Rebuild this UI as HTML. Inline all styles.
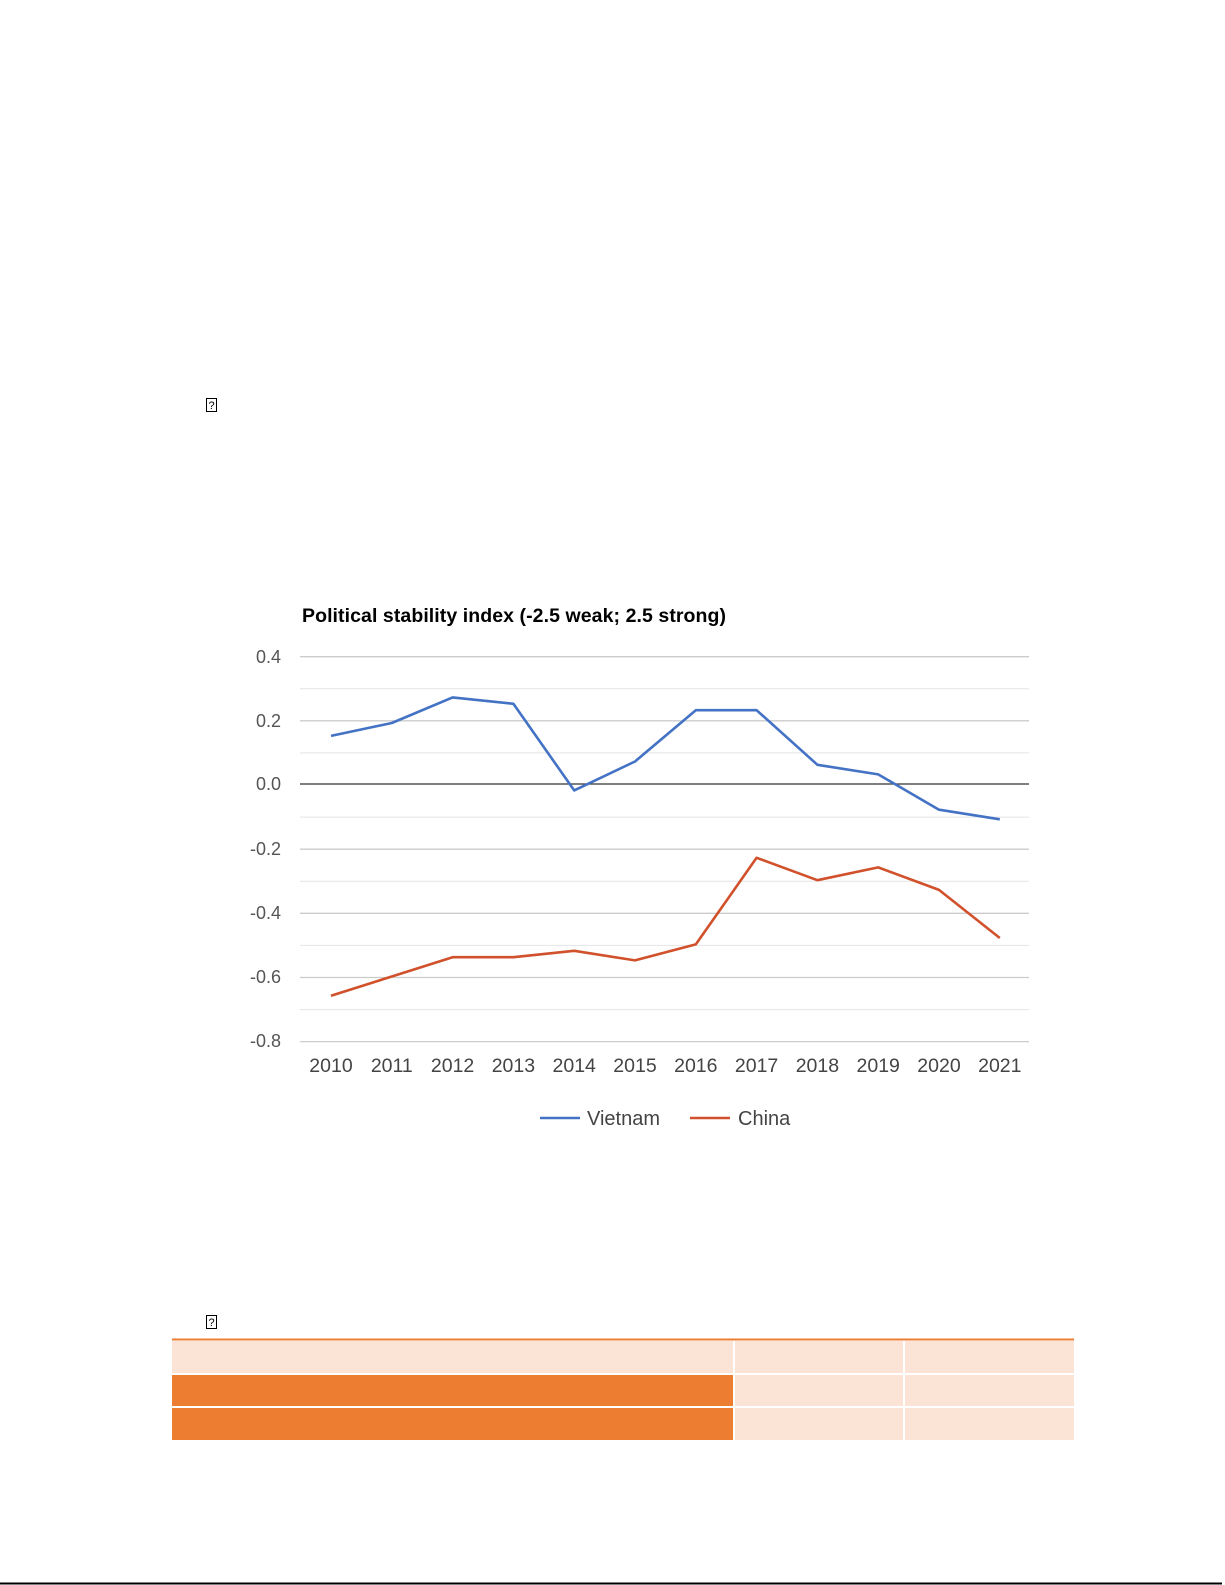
<!DOCTYPE html>
<html><head><meta charset="utf-8"><style>
html,body{margin:0;padding:0;background:#fff;}
body{width:1225px;height:1585px;position:relative;overflow:hidden;font-family:"Liberation Sans",sans-serif;}
.q{position:absolute;width:11px;height:14px;border:1px solid #000;font-size:11px;line-height:14px;text-align:center;box-sizing:border-box;}
</style></head><body>
<div class="q" style="left:206px;top:398px;">?</div>
<div class="q" style="left:206px;top:1315px;">?</div>
<svg width="1225" height="1585" style="position:absolute;left:0;top:0">
<text x="302" y="622" font-size="19.5" font-weight="bold" fill="#000" font-family="Liberation Sans" textLength="424">Political stability index (-2.5 weak; 2.5 strong)</text>
<g stroke="#e4e4e4" stroke-width="1">
<line x1="300" x2="1029" y1="688.8" y2="688.8"/><line x1="300" x2="1029" y1="752.9" y2="752.9"/>
<line x1="300" x2="1029" y1="817.1" y2="817.1"/><line x1="300" x2="1029" y1="881.2" y2="881.2"/>
<line x1="300" x2="1029" y1="945.4" y2="945.4"/><line x1="300" x2="1029" y1="1009.6" y2="1009.6"/>
</g>
<g stroke="#cccccc" stroke-width="1.3">
<line x1="300" x2="1029" y1="656.7" y2="656.7"/><line x1="300" x2="1029" y1="720.8" y2="720.8"/>
<line x1="300" x2="1029" y1="849.2" y2="849.2"/><line x1="300" x2="1029" y1="913.3" y2="913.3"/>
<line x1="300" x2="1029" y1="977.5" y2="977.5"/><line x1="300" x2="1029" y1="1041.6" y2="1041.6"/>
</g>
<line x1="300" x2="1029" y1="784" y2="784" stroke="#333" stroke-width="1.3"/>
<g font-size="18" fill="#555" text-anchor="end" font-family="Liberation Sans">
<text x="281" y="663">0.4</text><text x="281" y="727">0.2</text><text x="281" y="790">0.0</text>
<text x="281" y="855">-0.2</text><text x="281" y="919">-0.4</text><text x="281" y="983">-0.6</text><text x="281" y="1047">-0.8</text>
</g>
<g font-size="19.5" fill="#444" text-anchor="middle" font-family="Liberation Sans">
<text x="331" y="1072">2010</text><text x="391.8" y="1072">2011</text><text x="452.6" y="1072">2012</text><text x="513.4" y="1072">2013</text>
<text x="574.2" y="1072">2014</text><text x="635" y="1072">2015</text><text x="695.8" y="1072">2016</text><text x="756.6" y="1072">2017</text>
<text x="817.4" y="1072">2018</text><text x="878.2" y="1072">2019</text><text x="939" y="1072">2020</text><text x="999.8" y="1072">2021</text>
</g>
<polyline fill="none" stroke="#4472c4" stroke-width="2.6" stroke-linejoin="round" points="331,735.9 391.8,723 452.6,697.4 513.4,703.8 574.2,790.4 635,761.5 695.8,710.2 756.6,710.2 817.4,764.8 878.2,774.4 939,809.7 999.8,819.3"/>
<polyline fill="none" stroke="#d0512b" stroke-width="2.6" stroke-linejoin="round" points="331,995.7 391.8,976.5 452.6,957.2 513.4,957.2 574.2,950.8 635,960.4 695.8,944.4 756.6,857.8 817.4,880.2 878.2,867.4 939,889.9 999.8,938"/>
<line x1="540" x2="580" y1="1118" y2="1118" stroke="#4472c4" stroke-width="2.6"/>
<text x="587" y="1125" font-size="20" fill="#444" font-family="Liberation Sans">Vietnam</text>
<line x1="690" x2="730" y1="1118" y2="1118" stroke="#d0512b" stroke-width="2.6"/>
<text x="738" y="1125" font-size="20" fill="#444" font-family="Liberation Sans">China</text>
<rect x="172" y="1338.5" width="902" height="2" fill="#ed7d31"/>
<rect x="172" y="1341" width="561" height="32" fill="#fbe4d5"/>
<rect x="735" y="1341" width="168" height="32" fill="#fbe4d5"/>
<rect x="905" y="1341" width="169" height="32" fill="#fbe4d5"/>
<rect x="172" y="1375" width="561" height="31" fill="#ed7d31"/>
<rect x="735" y="1375" width="168" height="31" fill="#fbe4d5"/>
<rect x="905" y="1375" width="169" height="31" fill="#fbe4d5"/>
<rect x="172" y="1408" width="561" height="32" fill="#ed7d31"/>
<rect x="735" y="1408" width="168" height="32" fill="#fbe4d5"/>
<rect x="905" y="1408" width="169" height="32" fill="#fbe4d5"/>
<rect x="0" y="1582.5" width="1222" height="2" fill="#000"/>
</svg>
</body></html>
